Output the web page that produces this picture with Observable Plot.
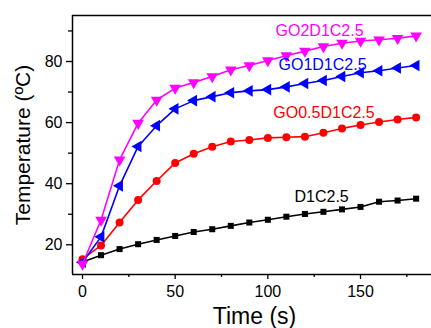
<!DOCTYPE html>
<html>
<head>
<meta charset="utf-8">
<script src="https://cdn.jsdelivr.net/npm/d3@7"></script>
<script src="https://cdn.jsdelivr.net/npm/@observablehq/plot@0.6"></script>
<style>
  html, body { margin: 0; padding: 0; background: #fff; }
  #chart { width: 431px; height: 328px; overflow: hidden; }
</style>
</head>
<body>
<div id="chart"></div>
<script>
// ---- DATA ----
const time = [0, 10, 20, 30, 40, 50, 60, 70, 80, 90, 100, 110, 120, 130, 140, 150, 160, 170, 180];
const seriesNames = ["D1C2.5", "GO0.5D1C2.5", "GO1D1C2.5", "GO2D1C2.5"];
const d1c25 =     [14.4, 16.6, 18.6, 20.2, 21.6, 22.9, 24.2, 25.1, 26.2, 27.3, 28.2, 29.2, 30.1, 30.8, 31.6, 32.4, 34.1, 34.5, 35.1];
const go05d1c25 = [15.3, 19.8, 27.3, 34.7, 40.9, 46.8, 49.8, 52.1, 53.8, 54.3, 55.0, 55.2, 55.4, 56.7, 58.1, 59.2, 60.2, 61.0, 61.7];
const go1d1c25 =  [14.3, 22.6, 39.3, 52.2, 59.0, 64.5, 67.2, 68.5, 69.8, 70.4, 70.8, 71.7, 72.8, 73.8, 75.1, 76.3, 77.0, 77.9, 78.7];
const go2d1c25 =  [13.7, 28.1, 47.8, 59.8, 67.4, 71.3, 73.1, 75.1, 77.3, 78.7, 80.3, 81.9, 83.4, 84.9, 86.0, 86.7, 87.1, 87.6, 88.4];
const labelTime = [129, 130.3, 129.5, 127.9];
const labelTemp = [35.8, 63.1, 79.0, 90.15];
const xTicks = [0, 50, 100, 150];
const xMinorTicks = [25, 75, 125, 175];
const yTicks = [20, 40, 60, 80];
const yMinorTicks = [30, 50, 70, 90];
const xTitle = "Time (s)";
const yTitle = "Temperature (ºC)";

// ---- STYLE ----
const colors = ["#000000", "#ff0000", "#0000ff", "#ff00ff"];

const downTriangle = {
  draw(context, size) {
    const y = -Math.sqrt(size / (Math.sqrt(3) * 3));
    const s3 = Math.sqrt(3);
    context.moveTo(0, -y * 2);
    context.lineTo(-s3 * y, y);
    context.lineTo(s3 * y, y);
    context.closePath();
  }
};
const leftTriangle = {
  draw(context, size) {
    const y = -Math.sqrt(size / (Math.sqrt(3) * 3));
    const s3 = Math.sqrt(3);
    context.moveTo(y * 2, 0);
    context.lineTo(-y, -s3 * y);
    context.lineTo(-y, s3 * y);
    context.closePath();
  }
};
const symbols = ["square", "circle", leftTriangle, downTriangle];
const radii = [3.4, 4.0, 4.3, 4.3];

const allValues = [d1c25, go05d1c25, go1d1c25, go2d1c25];
const rows = [];
allValues.forEach((vals, i) => {
  vals.forEach((v, j) => rows.push({ series: seriesNames[i], t: time[j], v, i }));
});
const labels = seriesNames.map((name, i) => ({ name, t: labelTime[i], v: labelTemp[i], i }));

const xDomain = [-5.4, 188.3];
const yDomain = [10.28, 95.06];

const marks = [];
allValues.forEach((vals, i) => {
  const data = rows.filter(d => d.i === i);
  marks.push(Plot.line(data, { x: "t", y: "v", stroke: colors[i], strokeWidth: 1.6 }));
  marks.push(Plot.dot(data, { x: "t", y: "v", fill: colors[i], stroke: "none", symbol: () => symbols[i], r: radii[i] }));
});
labels.forEach((d, i) => {
  marks.push(Plot.text([d], { x: "t", y: "v", text: "name", fill: colors[i], fontSize: 16, textAnchor: "middle" }));
});

const chart = Plot.plot({
  width: 431,
  height: 328,
  marginLeft: 72,
  marginRight: 0,
  marginTop: 15,
  marginBottom: 54,
  style: { fontFamily: "'Liberation Sans', Arial, sans-serif", fontSize: "16px", background: "#fff", color: "#000" },
  x: { domain: xDomain, range: [72, 431] },
  y: { domain: yDomain },
  marks: [
    Plot.ruleX([xDomain[0]], { stroke: "#000", strokeWidth: 1.5 }),
    Plot.ruleY([yDomain[0]], { stroke: "#000", strokeWidth: 1.5 }),
    Plot.ruleY([yDomain[1]], { stroke: "#000", strokeWidth: 1.5 }),
    Plot.axisX({ ticks: xTicks, tickSize: 5, tickPadding: 6, fontSize: 16, label: null, stroke: "#000", strokeWidth: 1.3 }),
    Plot.axisX({ ticks: xMinorTicks, tickSize: 3, text: null, label: null, stroke: "#000", strokeWidth: 1.3 }),
    Plot.axisY({ ticks: yTicks, tickSize: 6, tickPadding: 4, fontSize: 16, label: null, stroke: "#000", strokeWidth: 1.3 }),
    Plot.axisY({ ticks: yMinorTicks, tickSize: 4, text: null, label: null, stroke: "#000", strokeWidth: 1.3 }),
    Plot.text([xTitle], { frameAnchor: "bottom", text: d => d, dy: 42, dx: 2.5, fontSize: 23, fill: "#000", textAnchor: "middle", lineAnchor: "middle" }),
    Plot.text([yTitle], { frameAnchor: "left", text: d => d, dx: -49, rotate: -90, fontSize: 21, fill: "#000", textAnchor: "middle", lineAnchor: "middle" }),
    ...marks
  ]
});
document.getElementById("chart").appendChild(chart);
</script>
</body>
</html>
